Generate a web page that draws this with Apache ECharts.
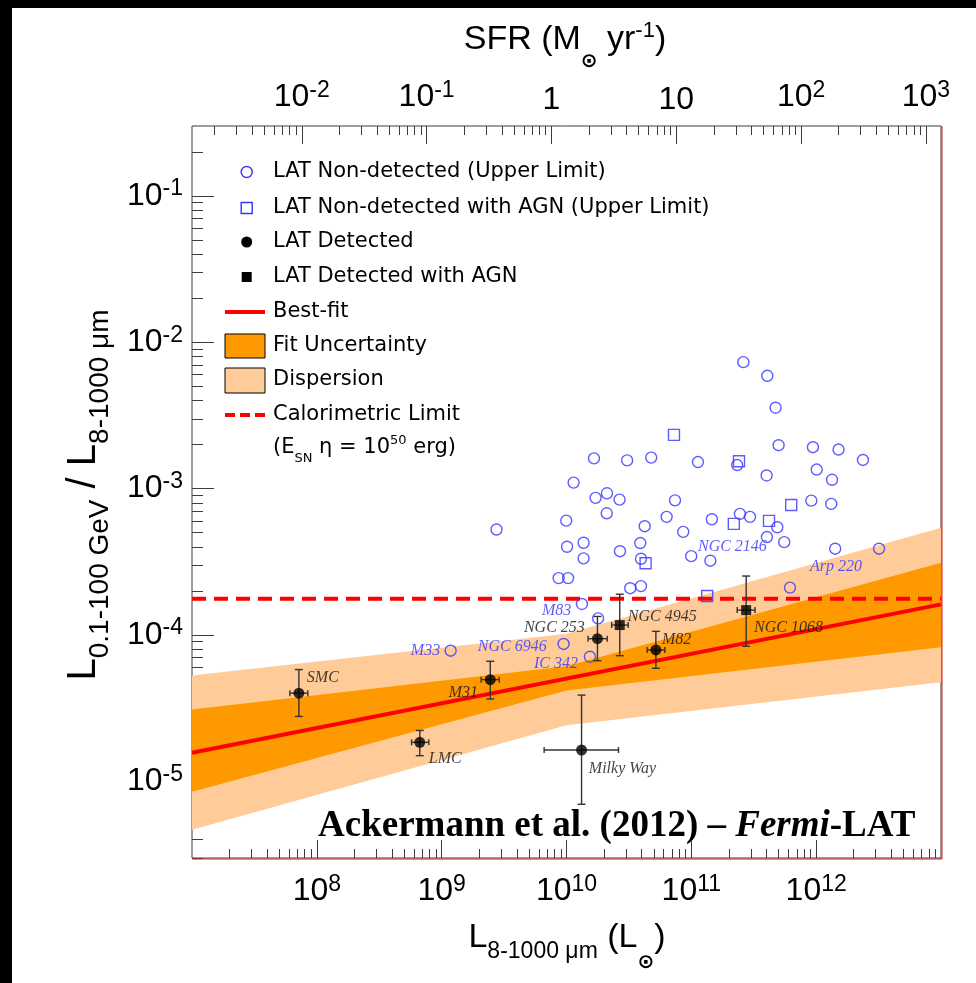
<!DOCTYPE html>
<html>
<head>
<meta charset="utf-8">
<script src="https://cdn.jsdelivr.net/npm/echarts@6/dist/echarts.min.js"></script>
<style>
html, body { margin: 0; padding: 0; background: #fff; }
#chart { width: 976px; height: 983px; }
</style>
</head>
<body>
<div id="chart"></div>
<script>
// axis ranges
const lRange = [1e7, 1e13]
const rRange = [3e-6, 0.3]
const sfrRange = [1.32e-3, 1.32e3]

// tick values / labels
const lMajorTicks = [1e8, 1e9, 1e10, 1e11, 1e12]
const rMajorTicks = [1e-5, 1e-4, 1e-3, 1e-2, 1e-1]
const sfrMajorTicks = [1e-2, 1e-1, 1, 10, 100, 1000]
const sfrTickLabels = ['10^-2', '10^-1', '1', '10', '10^2', '10^3']

// LAT non-detected (upper limits)
const ulL = [2.61e11, 4.06e11, 4.73e11, 5.00e11, 9.42e11, 1.51e12, 1.66e10, 3.06e10, 4.77e10, 1.13e11,
    2.33e11, 2.37e12, 4.01e11, 1.01e12, 1.34e12, 1.14e10, 1.71e10, 2.11e10, 2.66e10, 7.40e10,
    9.14e11, 1.32e12, 9.95e9, 2.10e10, 6.34e10, 4.23e10, 1.46e11, 2.45e11, 2.95e11, 4.88e11,
    8.61e10, 2.75e9, 1.01e10, 1.37e10, 1.37e10, 2.68e10, 3.90e10, 3.95e10, 9.98e10, 1.42e11,
    4.03e11, 5.55e11, 1.42e12, 3.19e12, 8.65e9, 1.03e10, 3.24e10, 3.95e10, 6.17e11, 1.33e10,
    1.79e10, 1.18e9, 9.48e9, 1.54e10]
const ulR = [7.31e-3, 5.90e-3, 3.57e-3, 1.98e-3, 1.92e-3, 1.85e-3, 1.61e-3, 1.56e-3, 1.63e-3, 1.52e-3,
    1.45e-3, 1.57e-3, 1.23e-3, 1.35e-3, 1.15e-3, 1.10e-3, 8.65e-4, 9.30e-4, 8.42e-4, 8.32e-4,
    8.28e-4, 7.87e-4, 6.05e-4, 6.79e-4, 6.42e-4, 5.54e-4, 6.18e-4, 6.73e-4, 6.42e-4, 5.45e-4,
    5.07e-4, 5.26e-4, 4.01e-4, 4.27e-4, 3.34e-4, 3.74e-4, 4.25e-4, 3.32e-4, 3.46e-4, 3.22e-4,
    4.67e-4, 4.31e-4, 3.89e-4, 3.89e-4, 2.45e-4, 2.45e-4, 2.09e-4, 2.16e-4, 2.11e-4, 1.63e-4,
    1.30e-4, 7.82e-5, 8.69e-5, 7.11e-5]

// LAT non-detected with AGN (upper limits)
const ulAgnL = [7.26e10, 2.41e11, 6.31e11, 2.19e11, 4.19e11, 4.30e10, 1.34e11]
const ulAgnR = [2.33e-3, 1.54e-3, 7.74e-4, 5.75e-4, 6.02e-4, 3.09e-4, 1.85e-4]

// LAT detected: SMC, LMC, M31, Milky Way, NGC 253, M82
const detL = [7.18e7, 6.68e8, 2.45e9, 1.32e10, 1.77e10, 5.20e10]
const detLlo = [6.08e7, 5.74e8, 2.07e9, 6.62e9, 1.49e10, 4.43e10]
const detLhi = [8.47e7, 7.89e8, 2.89e9, 2.61e10, 2.12e10, 6.14e10]
const detR = [4.01e-5, 1.85e-5, 4.96e-5, 1.64e-5, 9.44e-5, 7.91e-5]
const detRlo = [2.78e-5, 1.50e-5, 3.66e-5, 6.98e-6, 6.68e-5, 5.93e-5]
const detRhi = [5.81e-5, 2.23e-5, 6.62e-5, 3.89e-5, 1.34e-4, 1.06e-4]

// LAT detected with AGN: NGC 4945, NGC 1068
const agnL = [2.67e10, 2.75e11]
const agnLlo = [2.30e10, 2.33e11]
const agnLhi = [3.12e10, 3.24e11]
const agnR = [1.17e-4, 1.48e-4]
const agnRlo = [7.23e-5, 8.38e-5]
const agnRhi = [1.90e-4, 2.53e-4]

// best fit, bands, calorimetric limit
const fitL = [1e7, 1e13]
const fitR = [1.57e-5, 1.62e-4]
const bandL = [1e7, 1e10, 1e13]
const fitLo = [8.51e-6, 4.18e-5, 8.24e-5]
const fitHi = [3.10e-5, 6.11e-5, 3.12e-4]
const dispLo = [4.67e-6, 2.42e-5, 4.76e-5]
const dispHi = [5.30e-5, 1.02e-4, 5.41e-4]
const caloR = 1.77e-4

// galaxy name annotations (left edge of text)
const annoNames = ['SMC', 'LMC', 'M31', 'Milky Way', 'NGC 253', 'NGC 4945', 'M82', 'NGC 1068',
    'M33', 'NGC 6946', 'IC 342', 'M83', 'NGC 2146', 'Arp 220']
const annoL = [8.32e7, 7.89e8, 1.14e9, 1.51e10, 4.56e9, 3.10e10, 5.81e10, 3.18e11,
    5.66e8, 1.95e9, 5.48e9, 6.35e9, 1.13e11, 8.91e11]
const annoR = [5.09e-5, 1.43e-5, 4.03e-5, 1.22e-5, 1.12e-4, 1.33e-4, 9.25e-5, 1.12e-4,
    7.78e-5, 8.28e-5, 6.35e-5, 1.46e-4, 4.03e-4, 2.94e-4]
const annoBlue = [0, 0, 0, 0, 0, 0, 0, 0, 1, 1, 1, 1, 1, 1]

const SANS = 'Liberation Sans, Arial, sans-serif'
const SERIF = 'Liberation Serif, Times New Roman, serif'
const LEG = 'DejaVu Sans, Verdana, sans-serif'
const BLUE = '#3535ff'
const FRAME = '#3c3c3c'

const chart = echarts.init(document.getElementById('chart'), null, { renderer: 'canvas' })

function minorTicks(range) {
    const out = []
    const d0 = Math.floor(Math.log10(range[0]))
    const d1 = Math.ceil(Math.log10(range[1]))
    for (let d = d0; d <= d1; d++) {
        for (let k = 2; k <= 9; k++) {
            const v = k * Math.pow(10, d)
            if (v >= range[0] && v <= range[1]) out.push(v)
        }
    }
    return out
}

const supRich = {
    b: { fontFamily: SANS, fontSize: 32, color: '#000', verticalAlign: 'middle' },
    s: { fontFamily: SANS, fontSize: 23, color: '#000', verticalAlign: 'middle', padding: [0, 0, 14, 0] }
}

function toRich(txt) {
    const p = txt.split('^')
    return p.length > 1 ? '{b|' + p[0] + '}{s|' + p[1] + '}' : '{b|' + p[0] + '}'
}
function powLabel(v) {
    return toRich('10^' + Math.round(Math.log10(v)))
}
function sfrLabel(v) {
    let best = 0
    sfrMajorTicks.forEach((t, i) => {
        if (Math.abs(Math.log10(t) - Math.log10(v)) < Math.abs(Math.log10(sfrMajorTicks[best]) - Math.log10(v))) best = i
    })
    return toRich(sfrTickLabels[best])
}

function logAxis(position, range, ticks, len, label) {
    return {
        type: 'log',
        logBase: 10,
        position: position,
        min: range[0],
        max: range[1],
        axisLine: { show: false },
        splitLine: { show: false },
        axisPointer: { show: false },
        axisTick: { show: true, inside: true, length: len, customValues: ticks, lineStyle: { color: FRAME, width: 1 } },
        axisLabel: label
            ? Object.assign({ show: true, customValues: ticks, color: '#000', fontFamily: SANS, fontSize: 32, rich: supRich }, label)
            : { show: false }
    }
}

function bandSeries(name, lo, hi, color) {
    return {
        type: 'custom',
        name: name,
        silent: true,
        z: 1,
        encode: { x: 0, y: 1 },
        data: bandL.map((x, i) => [x, lo[i], hi[i]]),
        renderItem(params, api) {
            if (params.dataIndex !== 0) return null
            const top = bandL.map((x, i) => api.coord([x, hi[i]]))
            const bot = bandL.map((x, i) => api.coord([x, lo[i]])).reverse()
            return { type: 'polygon', shape: { points: top.concat(bot) }, style: { fill: color } }
        }
    }
}

function errorSeries(xs, xlo, xhi, ys, ylo, yhi) {
    return {
        type: 'custom',
        silent: true,
        z: 5,
        encode: { x: 0, y: 1 },
        data: xs.map((x, i) => [x, ys[i], xlo[i], xhi[i], ylo[i], yhi[i]]),
        renderItem(params, api) {
            const x = api.value(0), y = api.value(1)
            const a = api.coord([api.value(2), y]), b = api.coord([api.value(3), y])
            const c = api.coord([x, api.value(4)]), d = api.coord([x, api.value(5)])
            const st = { stroke: '#333', lineWidth: 1.4 }
            const seg = (x1, y1, x2, y2) => ({ type: 'line', shape: { x1, y1, x2, y2 }, style: st })
            return {
                type: 'group',
                children: [
                    seg(c[0], c[1], d[0], d[1]),
                    seg(c[0] - 4, c[1], c[0] + 4, c[1]),
                    seg(d[0] - 4, d[1], d[0] + 4, d[1]),
                    seg(a[0], a[1], b[0], b[1]),
                    seg(a[0], a[1] - 3, a[0], a[1] + 3),
                    seg(b[0], b[1] - 3, b[0], b[1] + 3)
                ]
            }
        }
    }
}

const legX = 273
const legIcon = 246.7
const legText = (txt, y) => ({
    type: 'text', silent: true, x: legX, y: y,
    style: { text: txt, fontFamily: LEG, fontSize: 21, fill: '#000', align: 'left', verticalAlign: 'middle', textAlign: 'left', textVerticalAlign: 'middle' }
})

const option = {
    animation: false,
    backgroundColor: '#fff',
    grid: { left: 192, top: 126, width: 749, height: 732, show: true, borderColor: FRAME, borderWidth: 1, backgroundColor: 'transparent' },
    xAxis: [
        logAxis('bottom', lRange, lMajorTicks, 18, { formatter: powLabel, margin: 15 }),
        logAxis('bottom', lRange, minorTicks(lRange), 9, null),
        logAxis('top', sfrRange, sfrMajorTicks, 18, { formatter: sfrLabel, margin: 10 }),
        logAxis('top', sfrRange, minorTicks(sfrRange), 9, null)
    ],
    yAxis: [
        logAxis('left', rRange, rMajorTicks, 22, { formatter: powLabel, margin: 9 }),
        logAxis('left', rRange, minorTicks(rRange), 11, null)
    ],
    series: [
        bandSeries('Dispersion', dispLo, dispHi, '#ffcc99'),
        bandSeries('Fit Uncertainty', fitLo, fitHi, '#ff9900'),
        {
            type: 'line', name: 'Calorimetric Limit', silent: true, z: 3, symbol: 'none',
            data: [[lRange[0], caloR], [lRange[1], caloR]],
            lineStyle: { color: '#ff0000', width: 4, type: [14, 8] }
        },
        {
            type: 'line', name: 'Best-fit', silent: true, z: 3, symbol: 'none',
            data: fitL.map((x, i) => [x, fitR[i]]),
            lineStyle: { color: '#ff0000', width: 4 }
        },
        {
            type: 'scatter', name: 'LAT Non-detected (Upper Limit)', silent: true, z: 4,
            symbol: 'circle', symbolSize: 11,
            itemStyle: { color: 'rgba(0,0,0,0)', borderColor: BLUE, borderWidth: 1.4 },
            data: ulL.map((x, i) => [x, ulR[i]])
        },
        {
            type: 'scatter', name: 'LAT Non-detected with AGN (Upper Limit)', silent: true, z: 4,
            symbol: 'rect', symbolSize: 11,
            itemStyle: { color: 'rgba(0,0,0,0)', borderColor: BLUE, borderWidth: 1.4 },
            data: ulAgnL.map((x, i) => [x, ulAgnR[i]])
        },
        errorSeries(detL, detLlo, detLhi, detR, detRlo, detRhi),
        errorSeries(agnL, agnLlo, agnLhi, agnR, agnRlo, agnRhi),
        {
            type: 'scatter', name: 'LAT Detected', silent: true, z: 6,
            symbol: 'circle', symbolSize: 11, itemStyle: { color: '#000' },
            data: detL.map((x, i) => [x, detR[i]])
        },
        {
            type: 'scatter', name: 'LAT Detected with AGN', silent: true, z: 6,
            symbol: 'rect', symbolSize: 10, itemStyle: { color: '#000' },
            data: agnL.map((x, i) => [x, agnR[i]])
        },
        {
            type: 'scatter', silent: true, z: 7, symbolSize: 0,
            data: annoNames.map((n, i) => ({
                name: n,
                value: [annoL[i], annoR[i]],
                label: { color: annoBlue[i] ? BLUE : '#111' }
            })),
            label: {
                show: true, position: 'right', distance: 0, formatter: '{b}',
                fontFamily: SERIF, fontStyle: 'italic', fontSize: 16
            }
        }
    ],
    graphic: [
        // black frame strips of the original picture
        { type: 'rect', silent: true, shape: { x: 0, y: 0, width: 976, height: 8 }, style: { fill: '#000' } },
        { type: 'rect', silent: true, shape: { x: 0, y: 0, width: 12, height: 983 }, style: { fill: '#000' } },
        // thin red edge along the right and bottom of the frame
        { type: 'line', silent: true, z: 10, shape: { x1: 942, y1: 126, x2: 942, y2: 859 }, style: { stroke: '#d02020', lineWidth: 1 } },
        { type: 'line', silent: true, z: 10, shape: { x1: 192, y1: 859, x2: 942, y2: 859 }, style: { stroke: '#d02020', lineWidth: 1 } },
        // axis titles
        {
            type: 'text', silent: true, x: 565, y: 40,
            style: {
                text: '{b|SFR (M}{sun|⊙}{b| yr}{sup|-1}{b|)}',
                align: 'center', verticalAlign: 'middle', textAlign: 'center', textVerticalAlign: 'middle',
                rich: {
                    b: { fontFamily: SANS, fontSize: 34, fill: '#000', verticalAlign: 'middle' },
                    sun: { fontFamily: 'DejaVu Sans', fontSize: 20, fontWeight: 'bold', fill: '#000', verticalAlign: 'middle', padding: [44, 0, 0, 0] },
                    sup: { fontFamily: SANS, fontSize: 22, fill: '#000', verticalAlign: 'middle', padding: [0, 0, 18, 0] }
                }
            }
        },
        {
            type: 'text', silent: true, x: 567, y: 938,
            style: {
                text: '{b|L}{sub|8-1000 μm}{b| (L}{sun|⊙}{b|)}',
                align: 'center', verticalAlign: 'middle', textAlign: 'center', textVerticalAlign: 'middle',
                rich: {
                    b: { fontFamily: SANS, fontSize: 34, fill: '#000', verticalAlign: 'middle' },
                    sub: { fontFamily: SANS, fontSize: 23, fill: '#000', verticalAlign: 'middle', padding: [28, 0, 0, 0] },
                    sun: { fontFamily: 'DejaVu Sans', fontSize: 20, fontWeight: 'bold', fill: '#000', verticalAlign: 'middle', padding: [50, 0, 0, 0] }
                }
            }
        },
        {
            type: 'text', silent: true, x: 84, y: 495, rotation: Math.PI / 2,
            style: {
                text: '{b|L}{sub|0.1-100 GeV}{b| / L}{sub|8-1000 μm}',
                align: 'center', verticalAlign: 'middle', textAlign: 'center', textVerticalAlign: 'middle',
                rich: {
                    b: { fontFamily: SANS, fontSize: 40, fill: '#000', verticalAlign: 'middle' },
                    sub: { fontFamily: SANS, fontSize: 28, fill: '#000', verticalAlign: 'middle', padding: [32, 0, 0, 0] }
                }
            }
        },
        // credit line
        {
            type: 'text', silent: true, x: 318, y: 826,
            style: {
                text: '{n|Ackermann et al. (2012) – }{i|Fermi}{n|-LAT}',
                align: 'left', verticalAlign: 'middle', textAlign: 'left', textVerticalAlign: 'middle',
                rich: {
                    n: { fontFamily: SERIF, fontWeight: 'bold', fontSize: 37, fill: '#000' },
                    i: { fontFamily: SERIF, fontWeight: 'bold', fontStyle: 'italic', fontSize: 37, fill: '#000' }
                }
            }
        },
        // legend
        { type: 'circle', silent: true, shape: { cx: legIcon, cy: 172, r: 5.5 }, style: { fill: 'none', stroke: BLUE, lineWidth: 1.4 } },
        legText('LAT Non-detected (Upper Limit)', 172),
        { type: 'rect', silent: true, shape: { x: legIcon - 5.5, y: 208 - 5.5, width: 11, height: 11 }, style: { fill: 'none', stroke: BLUE, lineWidth: 1.4 } },
        legText('LAT Non-detected with AGN (Upper Limit)', 208),
        { type: 'circle', silent: true, shape: { cx: legIcon, cy: 242, r: 5.5 }, style: { fill: '#000' } },
        legText('LAT Detected', 242),
        { type: 'rect', silent: true, shape: { x: legIcon - 5, y: 277 - 5, width: 10, height: 10 }, style: { fill: '#000' } },
        legText('LAT Detected with AGN', 277),
        { type: 'line', silent: true, shape: { x1: 225, y1: 312, x2: 265, y2: 312 }, style: { stroke: '#ff0000', lineWidth: 4 } },
        legText('Best-fit', 312),
        { type: 'rect', silent: true, shape: { x: 225, y: 334, width: 40, height: 24 }, style: { fill: '#ff9900', stroke: '#000', lineWidth: 1 } },
        legText('Fit Uncertainty', 346),
        { type: 'rect', silent: true, shape: { x: 225, y: 368, width: 40, height: 25 }, style: { fill: '#ffcc99', stroke: '#000', lineWidth: 1 } },
        legText('Dispersion', 380),
        { type: 'line', silent: true, shape: { x1: 225, y1: 415, x2: 265, y2: 415 }, style: { stroke: '#ff0000', lineWidth: 4, lineDash: [10, 5] } },
        legText('Calorimetric Limit', 415),
        {
            type: 'text', silent: true, x: legX, y: 448,
            style: {
                text: '{b|(E}{sub|SN}{b| η = 10}{sup|50}{b| erg)}',
                align: 'left', verticalAlign: 'middle', textAlign: 'left', textVerticalAlign: 'middle',
                rich: {
                    b: { fontFamily: LEG, fontSize: 21, fill: '#000', verticalAlign: 'middle' },
                    sub: { fontFamily: LEG, fontSize: 13, fill: '#000', verticalAlign: 'middle', padding: [22, 0, 0, 0] },
                    sup: { fontFamily: LEG, fontSize: 13, fill: '#000', verticalAlign: 'middle', padding: [0, 0, 14, 0] }
                }
            }
        }
    ]
}

chart.setOption(option)
</script>
</body>
</html>
